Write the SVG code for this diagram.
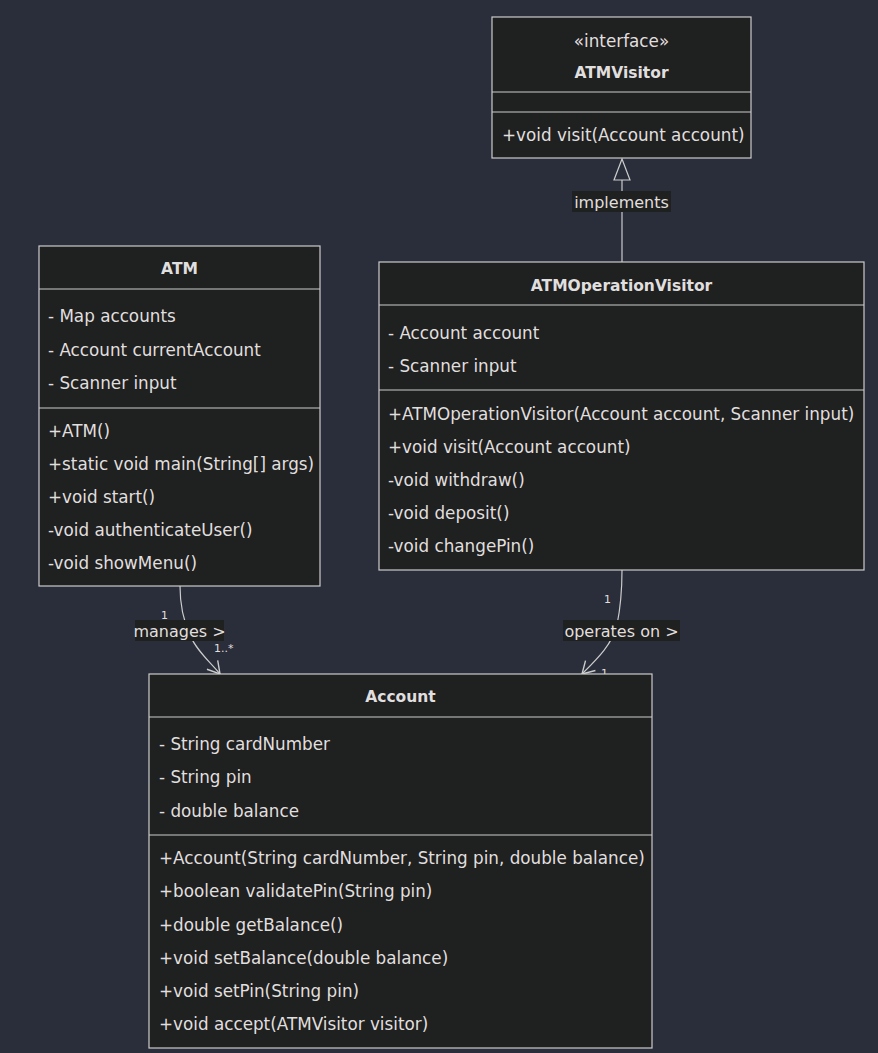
<svg xmlns="http://www.w3.org/2000/svg" width="878" height="1053" viewBox="0 0 878 1053">
<style>
.box{fill:#1f2020;stroke:#cccccc;stroke-width:1.2}
.div{stroke:#cccccc;stroke-width:1.2}
text{font-family:"DejaVu Sans",Verdana,sans-serif;font-size:16.8px;fill:#e0dfdf;dominant-baseline:central}
.t{font-weight:bold;text-anchor:middle;font-size:15.5px}
.c{text-anchor:middle}
.l{text-anchor:middle;font-size:16px}
.edge{fill:none;stroke:#cccccc;stroke-width:1.2}
.lbg{fill:#1f2020}
.card{font-size:11px}
</style>
<defs>
<marker id="open" markerWidth="16" markerHeight="16" refX="13" refY="8" orient="auto" markerUnits="userSpaceOnUse" viewBox="0 0 16 16">
<path d="M1,1 L13,8 L1,15" fill="none" stroke="#cccccc" stroke-width="1.4"/>
</marker>
</defs>
<rect width="878" height="1053" fill="#2a2e3a"/>

<g id="connectors">
<path class="edge" d="M622,262 L622,180"/>
<path d="M622,159 L630,180 L614,180 Z" fill="#2a2e3a" stroke="#cccccc" stroke-width="1.2"/>
<path class="edge" d="M180,586 C180,605 184,622 190,635 C196,650 210,662 220,674" marker-end="url(#open)"/>
<path class="edge" d="M622,570 C622,590 620,610 617,625 C612,645 596,660 582,674" marker-end="url(#open)"/>
<rect class="lbg" x="572" y="191" width="99" height="21"/>
<text class="l" x="621.5" y="202">implements</text>
<rect class="lbg" x="135" y="620" width="89" height="21"/>
<text class="l" x="179.5" y="631">manages &gt;</text>
<rect class="lbg" x="563" y="620" width="117" height="21"/>
<text class="l" x="621.5" y="631">operates on &gt;</text>
<text class="card" x="161" y="615">1</text>
<text class="card" x="214" y="648">1..*</text>
<text class="card" x="604" y="599">1</text>
<text class="card" x="601" y="673">1</text>
</g>

<g id="ATMVisitor">
<rect class="box" x="492" y="17" width="259" height="141"/>
<text class="c" x="621.5" y="41">«interface»</text>
<text class="t" x="621.5" y="73">ATMVisitor</text>
<line class="div" x1="492" y1="92" x2="751" y2="92"/>
<line class="div" x1="492" y1="112" x2="751" y2="112"/>
<text x="502" y="135">+void visit(Account account)</text>
</g>

<g id="ATM">
<rect class="box" x="39" y="246" width="281" height="340"/>
<text class="t" x="179.5" y="269">ATM</text>
<line class="div" x1="39" y1="289" x2="320" y2="289"/>
<text x="48" y="316">- Map accounts</text>
<text x="48" y="350">- Account currentAccount</text>
<text x="48" y="383">- Scanner input</text>
<line class="div" x1="39" y1="408" x2="320" y2="408"/>
<text x="48" y="431">+ATM()</text>
<text x="48" y="464">+static void main(String[] args)</text>
<text x="48" y="497">+void start()</text>
<text x="48" y="530">-void authenticateUser()</text>
<text x="48" y="563">-void showMenu()</text>
</g>

<g id="ATMOperationVisitor">
<rect class="box" x="379" y="262" width="485" height="308"/>
<text class="t" x="621.5" y="286">ATMOperationVisitor</text>
<line class="div" x1="379" y1="305" x2="864" y2="305"/>
<text x="388" y="333">- Account account</text>
<text x="388" y="366">- Scanner input</text>
<line class="div" x1="379" y1="390" x2="864" y2="390"/>
<text x="388" y="414">+ATMOperationVisitor(Account account, Scanner input)</text>
<text x="388" y="447">+void visit(Account account)</text>
<text x="388" y="480">-void withdraw()</text>
<text x="388" y="513">-void deposit()</text>
<text x="388" y="546">-void changePin()</text>
</g>

<g id="Account">
<rect class="box" x="149" y="674" width="503" height="374"/>
<text class="t" x="400.5" y="697">Account</text>
<line class="div" x1="149" y1="717" x2="652" y2="717"/>
<text x="159" y="744">- String cardNumber</text>
<text x="159" y="777">- String pin</text>
<text x="159" y="811">- double balance</text>
<line class="div" x1="149" y1="835" x2="652" y2="835"/>
<text x="159" y="858">+Account(String cardNumber, String pin, double balance)</text>
<text x="159" y="891">+boolean validatePin(String pin)</text>
<text x="159" y="925">+double getBalance()</text>
<text x="159" y="958">+void setBalance(double balance)</text>
<text x="159" y="991">+void setPin(String pin)</text>
<text x="159" y="1024">+void accept(ATMVisitor visitor)</text>
</g>
</svg>
